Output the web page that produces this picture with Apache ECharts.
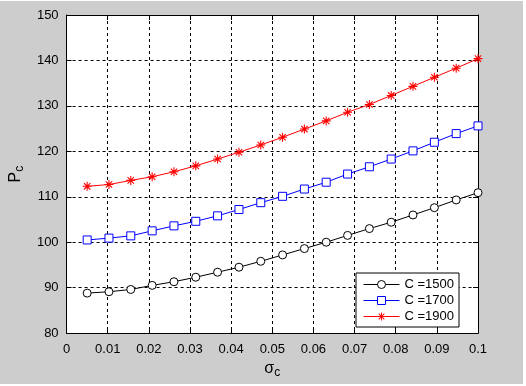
<!DOCTYPE html>
<html>
<head>
<meta charset="utf-8">
<script src="https://cdn.jsdelivr.net/npm/echarts@6/dist/echarts.min.js"></script>
<style>
  html, body { margin: 0; padding: 0; background: #ffffff; }
  #main { position: absolute; left: 0; top: 1px; width: 523px; height: 383px; background: #cdcdcd; }
</style>
</head>
<body>
<div id="main"></div>
<script>
// sigma_c values (x axis)
const sigma = [0.005, 0.0103, 0.0156, 0.0208, 0.0261, 0.0314, 0.0367, 0.0419, 0.0472, 0.0525,
               0.0578, 0.0631, 0.0683, 0.0736, 0.0789, 0.0842, 0.0894, 0.0947, 0.1]
// P_c for each C
const pc1500 = [88.8, 89.1, 89.6, 90.5, 91.3, 92.3, 93.4, 94.5, 95.8, 97.2,
                98.6, 100.0, 101.5, 103.0, 104.4, 106.0, 107.6, 109.3, 110.9]
const pc1700 = [100.5, 100.9, 101.4, 102.5, 103.6, 104.6, 105.8, 107.2, 108.7, 110.1,
                111.7, 113.2, 115.0, 116.6, 118.3, 120.1, 122.0, 123.9, 125.6]
const pc1900 = [112.3, 112.7, 113.6, 114.4, 115.5, 116.8, 118.3, 119.8, 121.4, 123.1,
                124.9, 126.7, 128.6, 130.3, 132.3, 134.3, 136.3, 138.3, 140.4]
const seriesNames = ['C =1500', 'C =1700', 'C =1900']

const font = 'Arial, "Liberation Sans", sans-serif'
const star = 'path://M-0.6,-5h1.2v10h-1.2zM-5,-0.6h10v1.2h-10zM-3.96,-3.11L-3.11,-3.96L3.96,3.11L3.11,3.96zM3.11,-3.96L3.96,-3.11L-3.11,3.96L-3.96,3.11z'

const pairs = ys => sigma.map((x, i) => [x, ys[i]])

let myChart = echarts.init(document.getElementById('main'))

const gridLine = { show: true, lineStyle: { color: '#000', type: [3, 3], width: 1 } }
const boxLine = { show: true, onZero: false, lineStyle: { color: '#000', width: 1 } }
const inTick = { show: true, inside: true, length: 5, lineStyle: { color: '#000' } }
const nameRich = {
  a: { fontSize: 16, fontFamily: font, color: '#000' },
  s: { fontSize: 12, fontFamily: font, color: '#000', verticalAlign: 'bottom', padding: [8, 0, 0, 0] }
}

myChart.setOption({
  animation: false,
  backgroundColor: '#cdcdcd',
  grid: { left: 61, right: 45, top: 14, bottom: 40, backgroundColor: '#fff', show: true, borderWidth: 0 },
  xAxis: [{
    type: 'value', min: 0, max: 0.1, interval: 0.01,
    axisLine: boxLine, axisTick: inTick, splitLine: gridLine,
    axisLabel: {
      color: '#000', fontSize: 13, fontFamily: font, margin: 10,
      formatter: v => v === 0 ? '0' : String(+v.toFixed(2))
    },
    name: '{a|σ}{s|c}', nameLocation: 'middle', nameGap: 21,
    nameTextStyle: { rich: nameRich }
  }, {
    type: 'value', position: 'top', min: 0, max: 0.1, interval: 0.01,
    axisLine: boxLine, axisTick: inTick, axisLabel: { show: false }, splitLine: { show: false }
  }],
  yAxis: [{
    type: 'value', min: 80, max: 150, interval: 10,
    axisLine: boxLine, axisTick: inTick, splitLine: gridLine,
    axisLabel: { color: '#000', fontSize: 13, fontFamily: font, margin: 8 },
    name: '{a|P}{s|c}', nameLocation: 'middle', nameGap: 35,
    nameTextStyle: { rich: nameRich }
  }, {
    type: 'value', position: 'right', min: 80, max: 150, interval: 10,
    axisLine: boxLine, axisTick: inTick, axisLabel: { show: false }, splitLine: { show: false }
  }],
  legend: {
    orient: 'vertical', left: 356, top: 272,
    backgroundColor: '#fff', borderColor: '#000', borderWidth: 1, borderRadius: 0,
    padding: [5, 5, 4, 7], itemGap: 3, itemWidth: 36, itemHeight: 10,
    lineStyle: { width: 1 }, itemStyle: { borderWidth: 1 },
    textStyle: { color: '#000', fontSize: 13, fontFamily: font },
    data: seriesNames
  },
  series: [{
    name: seriesNames[0], type: 'line', data: pairs(pc1500),
    symbol: 'circle', symbolSize: 8,
    itemStyle: { color: '#fff', borderColor: '#000', borderWidth: 1 },
    lineStyle: { color: '#000', width: 1 }
  }, {
    name: seriesNames[1], type: 'line', data: pairs(pc1700),
    symbol: 'rect', symbolSize: 8,
    itemStyle: { color: '#fff', borderColor: '#0000ff', borderWidth: 1 },
    lineStyle: { color: '#0000ff', width: 1 }
  }, {
    name: seriesNames[2], type: 'line', data: pairs(pc1900),
    symbol: star, symbolSize: 9,
    itemStyle: { color: '#ff0000' },
    lineStyle: { color: '#ff0000', width: 1 }
  }]
})
</script>
</body>
</html>
